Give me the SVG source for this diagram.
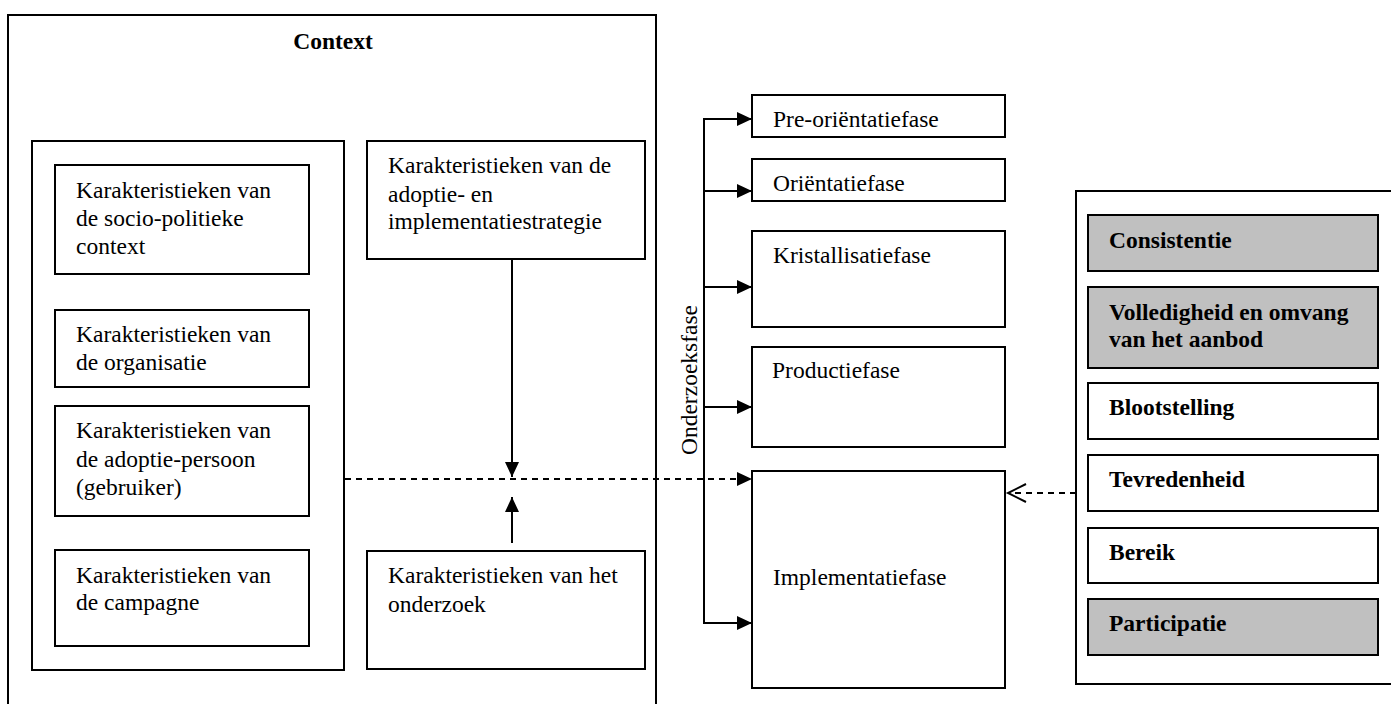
<svg xmlns="http://www.w3.org/2000/svg" width="1391" height="704" viewBox="0 0 1391 704">
<style>
.box{fill:#fff;stroke:#000;stroke-width:2}
.gray{fill:#c0c0c0;stroke:#000;stroke-width:2}
.t{font-family:"Liberation Serif","Times New Roman",serif;font-size:23.5px;fill:#000}
.b{font-family:"Liberation Serif","Times New Roman",serif;font-size:23.5px;font-weight:bold;fill:#000}
.ln{fill:none;stroke:#000;stroke-width:2}
.dash{fill:none;stroke:#000;stroke-width:2;stroke-dasharray:6 5}
</style>
<defs>
<marker id="fa" markerWidth="16" markerHeight="16" refX="15" refY="7" orient="auto" markerUnits="userSpaceOnUse">
<path d="M0,0 L15,7 L0,14 Z" fill="#000"/>
</marker>
<marker id="oa" markerWidth="22" markerHeight="22" refX="19" refY="10" orient="auto" markerUnits="userSpaceOnUse">
<path d="M1,1 L19,10 L1,19" fill="none" stroke="#000" stroke-width="2"/>
</marker>
</defs>

<g id="context">
<rect class="box" x="8" y="15" width="648" height="700"/>
<text class="b" x="333" y="49" text-anchor="middle">Context</text>
</g>

<g id="leftgroup">
<rect class="box" x="32" y="141" width="312" height="529"/>
</g>

<g id="socio">
<rect class="box" x="55" y="165" width="254" height="109"/>
<text class="t" x="76" y="198">Karakteristieken van</text>
<text class="t" x="76" y="226">de socio-politieke</text>
<text class="t" x="76" y="254">context</text>
</g>

<g id="organisatie">
<rect class="box" x="55" y="310" width="254" height="77"/>
<text class="t" x="76" y="342">Karakteristieken van</text>
<text class="t" x="76" y="370">de organisatie</text>
</g>

<g id="persoon">
<rect class="box" x="55" y="406" width="254" height="110"/>
<text class="t" x="76" y="438">Karakteristieken van</text>
<text class="t" x="76" y="467">de adoptie-persoon</text>
<text class="t" x="76" y="495">(gebruiker)</text>
</g>

<g id="campagne">
<rect class="box" x="55" y="550" width="254" height="96"/>
<text class="t" x="76" y="583">Karakteristieken van</text>
<text class="t" x="76" y="610">de campagne</text>
</g>

<g id="strategie">
<rect class="box" x="367" y="141" width="278" height="118"/>
<text class="t" x="388" y="173">Karakteristieken van de</text>
<text class="t" x="388" y="202">adoptie- en</text>
<text class="t" x="388" y="229">implementatiestrategie</text>
</g>

<g id="onderzoek">
<rect class="box" x="367" y="551" width="278" height="118"/>
<text class="t" x="388" y="583">Karakteristieken van het</text>
<text class="t" x="388" y="612">onderzoek</text>
</g>

<g id="onderzoeksfase-label">
<text class="t" transform="translate(697,380) rotate(-90)" text-anchor="middle">Onderzoeksfase</text>
</g>

<g id="pre">
<rect class="box" x="752" y="95" width="253" height="42"/>
<text class="t" x="773" y="127">Pre-oriëntatiefase</text>
</g>
<g id="orientatie">
<rect class="box" x="752" y="159" width="253" height="42"/>
<text class="t" x="773" y="191">Oriëntatiefase</text>
</g>
<g id="kristallisatie">
<rect class="box" x="752" y="231" width="253" height="96"/>
<text class="t" x="773" y="263">Kristallisatiefase</text>
</g>
<g id="productie">
<rect class="box" x="752" y="347" width="253" height="100"/>
<text class="t" x="772" y="378">Productiefase</text>
</g>
<g id="implementatie">
<rect class="box" x="752" y="471" width="253" height="217"/>
<text class="t" x="773" y="585">Implementatiefase</text>
</g>

<g id="evaluatie">
<rect class="box" x="1076" y="191" width="330" height="493"/>
</g>
<g id="consistentie">
<rect class="gray" x="1088" y="215" width="290" height="56"/>
<text class="b" x="1109" y="248">Consistentie</text>
</g>
<g id="volledigheid">
<rect class="gray" x="1088" y="287" width="290" height="81"/>
<text class="b" x="1109" y="320">Volledigheid en omvang</text>
<text class="b" x="1109" y="347">van het aanbod</text>
</g>
<g id="blootstelling">
<rect class="box" x="1088" y="383" width="290" height="56"/>
<text class="b" x="1109" y="415">Blootstelling</text>
</g>
<g id="tevredenheid">
<rect class="box" x="1088" y="455" width="290" height="56"/>
<text class="b" x="1109" y="487">Tevredenheid</text>
</g>
<g id="bereik">
<rect class="box" x="1088" y="528" width="290" height="55"/>
<text class="b" x="1109" y="560">Bereik</text>
</g>
<g id="participatie">
<rect class="gray" x="1088" y="599" width="290" height="56"/>
<text class="b" x="1109" y="631">Participatie</text>
</g>

<g id="connectors">
<line class="ln" x1="512" y1="259" x2="512" y2="477" marker-end="url(#fa)"/>
<line class="ln" x1="512" y1="543" x2="512" y2="497" marker-end="url(#fa)"/>
<path class="ln" d="M752,119 L704,119 L704,623 L752,623"/>
<line class="ln" x1="704" y1="119" x2="752" y2="119" marker-end="url(#fa)"/>
<line class="ln" x1="704" y1="191" x2="752" y2="191" marker-end="url(#fa)"/>
<line class="ln" x1="704" y1="287" x2="752" y2="287" marker-end="url(#fa)"/>
<line class="ln" x1="704" y1="407" x2="752" y2="407" marker-end="url(#fa)"/>
<line class="ln" x1="704" y1="623" x2="752" y2="623" marker-end="url(#fa)"/>
<line class="dash" x1="345" y1="479" x2="752" y2="479" marker-end="url(#fa)"/>
<line class="dash" x1="1076" y1="493" x2="1008" y2="493" marker-end="url(#oa)"/>
</g>
</svg>
